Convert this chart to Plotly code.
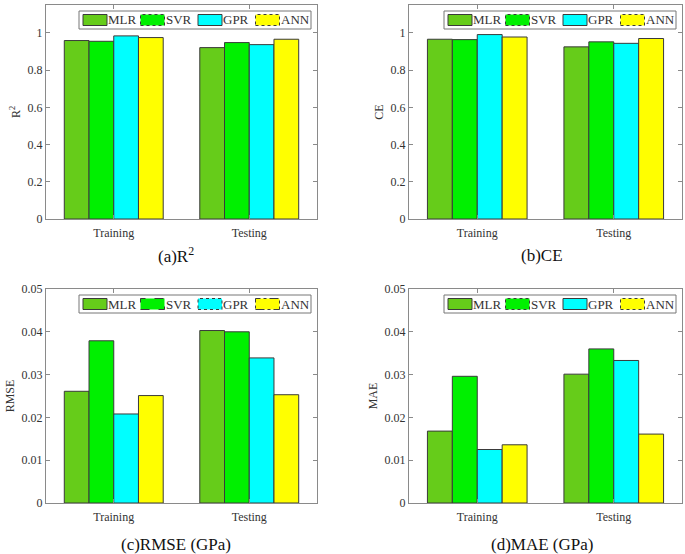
import plotly.graph_objects as go

categories = ["Training", "Testing"]
models = ["MLR", "SVR", "GPR", "ANN"]
colors = ["#66CC1A", "#00F000", "#00FFFF", "#FFFF00"]

r2 = {"MLR": [0.959, 0.921], "SVR": [0.955, 0.948], "GPR": [0.984, 0.937], "ANN": [0.975, 0.966]}
ce = {"MLR": [0.966, 0.925], "SVR": [0.964, 0.952], "GPR": [0.991, 0.944], "ANN": [0.978, 0.970]}
rmse = {"MLR": [0.0261, 0.0403], "SVR": [0.0379, 0.0400], "GPR": [0.0208, 0.0339], "ANN": [0.0251, 0.0253]}
mae = {"MLR": [0.0168, 0.0301], "SVR": [0.0296, 0.0360], "GPR": [0.0125, 0.0333], "ANN": [0.0136, 0.0161]}

dash_ad = ["solid", "dot", "solid", "dot"]
dash_c = ["solid", "dash", "dot", "dashdot"]

panels = [
    (r2, "R<sup>2</sup>", "(a)R<sup>2</sup>", [0, 1.15], [0, 0.2, 0.4, 0.6, 0.8, 1], dash_ad),
    (ce, "CE", "(b)CE", [0, 1.15], [0, 0.2, 0.4, 0.6, 0.8, 1], dash_ad),
    (rmse, "RMSE", "(c)RMSE (GPa)", [0, 0.05], [0, 0.01, 0.02, 0.03, 0.04, 0.05], dash_c),
    (mae, "MAE", "(d)MAE (GPa)", [0, 0.05], [0, 0.01, 0.02, 0.03, 0.04, 0.05], dash_ad),
]

W, H = 685, 554
# plot-area boxes in pixels: left, right, top, bottom
boxes = [(46, 317, 5, 219), (409, 682, 5, 219), (46, 317, 289, 503), (409, 682, 289, 503)]
caption_pos = [(176, 255), (542, 255), (176, 544), (542, 544)]

FONT = "Liberation Serif, Times New Roman, serif"
TXT = "#333333"
AX = "#8a8a8a"


def px(x):
    return x / W


def py(y):
    return 1 - y / H


fig = go.Figure()
layout = dict(
    width=W, height=H, margin=dict(l=0, r=0, t=0, b=0, autoexpand=False),
    paper_bgcolor="white", plot_bgcolor="white",
    barmode="group", bargap=0.27, bargroupgap=0,
    font=dict(family=FONT, size=12, color=TXT),
    showlegend=False,
    annotations=[], shapes=[],
)

for i, (data, ytitle, caption, yrange, ytv, dashes) in enumerate(panels):
    n = "" if i == 0 else str(i + 1)
    xa, ya = "x" + n, "y" + n
    for m, c in zip(models, colors):
        fig.add_trace(go.Bar(
            x=categories, y=data[m], name=m, xaxis=xa, yaxis=ya,
            marker=dict(color=c, line=dict(color="#3a3a3a", width=1)),
            showlegend=False,
        ))
    l, r, t, b = boxes[i]
    layout["xaxis" + n] = dict(
        domain=[px(l), px(r)], anchor=ya, range=[-0.5, 1.5],
        showline=True, linecolor=AX, linewidth=1, mirror="ticks",
        ticks="inside", ticklen=4, tickcolor=AX,
        showgrid=False, tickfont=dict(size=12, color=TXT),
        ticklabelstandoff=3,
    )
    layout["yaxis" + n] = dict(
        domain=[py(b), py(t)], anchor=xa, range=yrange,
        tickvals=ytv, ticks="inside", ticklen=4, tickcolor=AX,
        showline=True, linecolor=AX, linewidth=1, mirror="ticks",
        showgrid=False, zeroline=False, tickfont=dict(size=12, color=TXT),
        title=dict(text=ytitle, font=dict(size=12, color=TXT), standoff=4),
    )

    # legend box (drawn in the panel's top-right corner)
    bx0, bx1 = r - 238, r - 6
    by0, by1 = t + 6, t + 24
    layout["shapes"].append(dict(
        type="rect", xref="paper", yref="paper",
        x0=px(bx0), x1=px(bx1), y0=py(by1), y1=py(by0),
        line=dict(color="#777777", width=1), fillcolor="white", layer="above",
    ))
    cy = (by0 + by1) / 2
    for k, (m, c, d) in enumerate(zip(models, colors, dashes)):
        sx0 = bx0 + 4 + 57.5 * k
        sx1 = sx0 + 24
        layout["shapes"].append(dict(
            type="rect", xref="paper", yref="paper",
            x0=px(sx0), x1=px(sx1), y0=py(cy + 5.5), y1=py(cy - 5.5),
            line=dict(color="#3a3a3a", width=1, dash=d), fillcolor=c, layer="above",
        ))
        layout["annotations"].append(dict(
            text=m, x=px(sx1 - 1), y=py(cy), xref="paper", yref="paper",
            showarrow=False, xanchor="left", yanchor="middle",
            font=dict(size=13, color=TXT, family=FONT),
        ))

    cx, cyc = caption_pos[i]
    layout["annotations"].append(dict(
        text=caption, x=px(cx), y=py(cyc), xref="paper", yref="paper",
        showarrow=False, font=dict(size=17, color="#111111", family=FONT),
        xanchor="center", yanchor="middle",
    ))

fig.update_layout(**layout)
# remove the browser's default 8px body margin so the figure fills the window
fig.write_html("out.html", config={"displayModeBar": False},
               post_script="document.body.style.margin='0';")
